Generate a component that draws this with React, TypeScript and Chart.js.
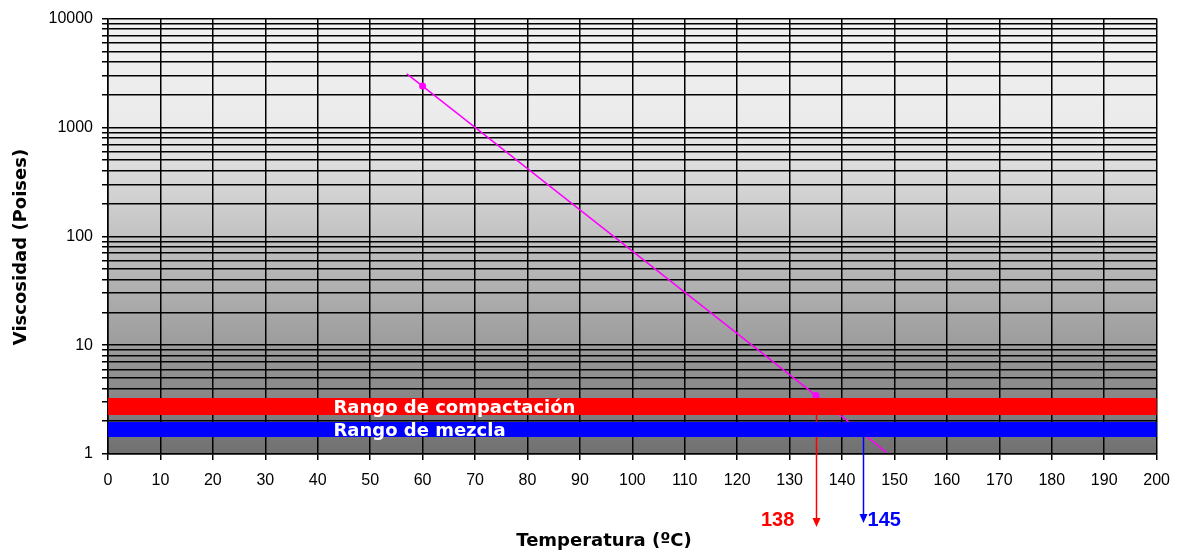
import React, { useEffect, useRef } from "react";
import { Chart, registerables } from "chart.js";

Chart.register(...registerables);

// ---------- data ----------
const X_MIN = 0;
const X_MAX = 200;
const X_STEP = 10;
const Y_MIN = 1;
const Y_MAX = 10000;
const Y_DECADES = [1, 10, 100, 1000];
const Y_MULTIPLIERS = [1, 2, 3, 4, 5, 6, 7, 8, 9];
const Y_LABELS = [1, 10, 100, 1000, 10000];

// viscosity-temperature line (magenta)
const LINE_TEMPS = [57, 60, 135, 148.5];
const LINE_VISC = [3100, 2400, 3.45, 1.03];
const LINE_MARKERS = [0, 3.5, 3.5, 0];

// horizontal ranges
const BAND_TEMPS = [0, 200];
const COMPACT_VISC = [2.73, 2.73];
const MIX_VISC = [1.68, 1.68];
const BAND_NAMES = ["Rango de compactación", "Rango de mezcla"];
const BAND_LABEL_TEMP = [43, 43];

// arrows to result temperatures
const ARROW_TEMPS = [135.1, 143.9];
const ARROW_FROM_VISC = [2.73, 1.68];
const ARROW_LABELS = ["138", "145"];
const ARROW_COLORS = ["#ff0000", "#0000ff"];

const Y_TICKS = Y_DECADES.flatMap((d) => Y_MULTIPLIERS.map((m) => m * d)).concat([10000]);

const X_TITLE = "Temperatura (ºC)";
const Y_TITLE = "Viscosidad (Poises)";

const TITLE_FONT = "bold 18px 'DejaVu Sans', Verdana, sans-serif";
const BAND_FONT = "bold 18px 'DejaVu Sans', Verdana, sans-serif";
const ARROW_FONT = "bold 20px 'Liberation Sans', Arial, sans-serif";

const backgroundPlugin = {
  id: "bgGradient",
  beforeDraw(chart: any) {
    const { ctx, chartArea } = chart;
    if (!chartArea) return;
    const g = ctx.createLinearGradient(0, chartArea.top, 0, chartArea.bottom);
    g.addColorStop(0, "#f0f0f0");
    g.addColorStop(0.25, "#ebebeb");
    g.addColorStop(0.5, "#c2c2c2");
    g.addColorStop(0.75, "#9c9c9c");
    g.addColorStop(1, "#707070");
    ctx.save();
    ctx.fillStyle = g;
    ctx.fillRect(chartArea.left, chartArea.top, chartArea.right - chartArea.left, chartArea.bottom - chartArea.top);
    ctx.restore();
  },
};

const arrowsPlugin = {
  id: "arrows",
  beforeDatasetsDraw(chart: any) {
    const { ctx, scales, chartArea } = chart;
    const xs = scales.x;
    const ys = scales.y;
    ctx.save();
    ARROW_TEMPS.forEach((t, i) => {
      const x = Math.round(xs.getPixelForValue(t)) + 0.5;
      const y0 = ys.getPixelForValue(ARROW_FROM_VISC[i]);
      const y1 = chartArea.bottom + (i === 0 ? 73 : 69);
      ctx.strokeStyle = ARROW_COLORS[i];
      ctx.fillStyle = ARROW_COLORS[i];
      ctx.lineWidth = 1.5;
      ctx.beginPath();
      ctx.moveTo(x, y0);
      ctx.lineTo(x, y1 - 6);
      ctx.stroke();
      ctx.beginPath();
      ctx.moveTo(x - 4, y1 - 9);
      ctx.lineTo(x + 4, y1 - 9);
      ctx.lineTo(x, y1);
      ctx.closePath();
      ctx.fill();
    });
    ctx.restore();
  },
  afterDatasetsDraw(chart: any) {
    const { ctx, scales, chartArea } = chart;
    const xs = scales.x;
    const ys = scales.y;
    ctx.save();
    // band labels
    ctx.font = BAND_FONT;
    ctx.fillStyle = "#ffffff";
    ctx.textBaseline = "middle";
    ctx.textAlign = "left";
    const bandVals = [COMPACT_VISC[0], MIX_VISC[0]];
    BAND_NAMES.forEach((name, i) => {
      ctx.fillText(name, xs.getPixelForValue(BAND_LABEL_TEMP[i]), ys.getPixelForValue(bandVals[i]) + 2);
    });
    // arrow labels
    ctx.font = ARROW_FONT;
    ARROW_TEMPS.forEach((t, i) => {
      const x = xs.getPixelForValue(t);
      ctx.fillStyle = ARROW_COLORS[i];
      ctx.textAlign = i === 0 ? "right" : "left";
      ctx.fillText(ARROW_LABELS[i], i === 0 ? x - 22 : x + 5, chartArea.bottom + 66);
    });
    ctx.restore();
  },
  afterDraw(chart: any) {
    const { ctx } = chart;
    ctx.save();
    ctx.font = TITLE_FONT;
    ctx.fillStyle = "#000";
    ctx.textAlign = "center";
    ctx.textBaseline = "middle";
    ctx.fillText(X_TITLE, 604, 541);
    ctx.translate(21, 247);
    ctx.rotate(-Math.PI / 2);
    ctx.fillText(Y_TITLE, 0, 0);
    ctx.restore();
  },
};

export default function App() {
  const canvasRef = useRef<HTMLCanvasElement | null>(null);

  useEffect(() => {
    document.body.style.margin = "0";
    const canvas = canvasRef.current;
    if (!canvas) return;
    const tickFont = { family: "'Liberation Sans', Arial, sans-serif", size: 16 };
    const chart = new Chart(canvas, {
      type: "line",
      data: {
        datasets: [
          {
            label: "compact",
            data: BAND_TEMPS.map((t, i) => ({ x: t, y: COMPACT_VISC[i] })),
            borderColor: "#ff0000",
            borderWidth: 17,
            borderCapStyle: "butt",
            pointRadius: 0,
            clip: false as any,
          },
          {
            label: "mix",
            data: BAND_TEMPS.map((t, i) => ({ x: t, y: MIX_VISC[i] })),
            borderColor: "#0000ff",
            borderWidth: 15,
            borderCapStyle: "butt",
            pointRadius: 0,
            clip: false as any,
          },
          {
            label: "viscosity",
            data: LINE_TEMPS.map((t, i) => ({ x: t, y: LINE_VISC[i] })),
            borderColor: "#ff00ff",
            backgroundColor: "#ff00ff",
            borderWidth: 1.5,
            pointRadius: LINE_MARKERS,
            pointStyle: "circle",
            pointBorderWidth: 0,
          },
        ],
      },
      options: {
        animation: false,
        responsive: false,
        layout: { padding: { top: 18, right: 24, left: 0, bottom: 0 } },
        plugins: { legend: { display: false }, tooltip: { enabled: false } },
        scales: {
          x: {
            type: "linear",
            min: X_MIN,
            max: X_MAX,
            ticks: {
              stepSize: X_STEP,
              autoSkip: false,
              maxRotation: 0,
              color: "#000",
              font: tickFont,
              padding: 11,
            },
            grid: { color: "#000", lineWidth: 1.5, tickLength: 6 },
            border: { color: "#000", width: 1.5 },
            afterFit: (s: any) => {
              s.height = 98;
            },
          },
          y: {
            type: "logarithmic",
            min: Y_MIN,
            max: Y_MAX,
            afterBuildTicks: (axis: any) => {
              axis.ticks = Y_TICKS.map((v) => ({ value: v, major: Y_LABELS.includes(v) }));
            },
            ticks: {
              autoSkip: false,
              color: "#000",
              font: tickFont,
              padding: 9,
              callback: (v: any) => (Y_LABELS.includes(Number(v)) ? String(v) : ""),
            },
            grid: { color: "#000", lineWidth: 1.5, tickLength: 6 },
            border: { color: "#000", width: 1.5 },
            afterFit: (s: any) => {
              s.width = 108;
            },
          },
        },
      },
      plugins: [backgroundPlugin, arrowsPlugin],
    } as any);
    return () => chart.destroy();
  }, []);

  return (
    <div style={{ width: 1181, height: 552 }}>
      <canvas ref={canvasRef} width={1181} height={552} style={{ display: "block" }} />
    </div>
  );
}
